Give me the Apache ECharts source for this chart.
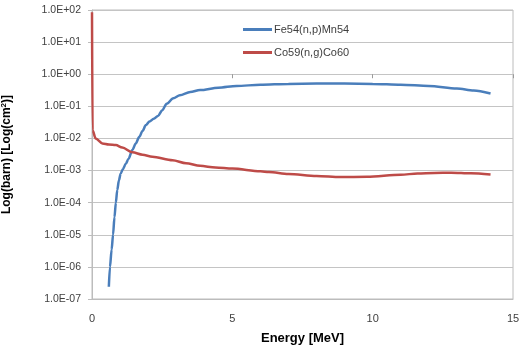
<!DOCTYPE html>
<html>
<head>
<meta charset="utf-8">
<script src="https://cdn.jsdelivr.net/npm/echarts@6/dist/echarts.min.js"></script>
<style>html,body{margin:0;padding:0;background:#fff}#c{width:520px;height:346px}</style>
</head>
<body>
<div id="c"></div>
<script>
// Series names
var seriesNames = ['Fe54(n,p)Mn54', 'Co59(n,g)Co60'];
// Fe54(n,p)Mn54: energy [MeV] and cross section
var feEnergy = [0.6, 0.64, 0.7, 0.75, 0.8, 0.85, 0.9, 0.96, 1.02, 1.1, 1.2, 1.3, 1.44, 1.56, 1.68, 1.8, 1.92, 2.05, 2.2, 2.35, 2.5, 2.66, 2.9, 3.13, 3.5, 3.85, 4.5, 5.15, 6, 7, 8, 9, 10, 11, 12, 13, 13.6, 14.2];
var feValue  = [2.4e-7, 1e-6, 3.5e-6, 1e-5, 3.5e-5, 1e-4, 2.5e-4, 5e-4, 8e-4, 1.1e-3, 1.6e-3, 2.3e-3, 4.4e-3, 7e-3, 1.1e-2, 1.7e-2, 2.6e-2, 3.4e-2, 4.1e-2, 5e-2, 7.5e-2, 0.12, 0.18, 0.22, 0.28, 0.32, 0.38, 0.43, 0.47, 0.5, 0.51, 0.51, 0.5, 0.47, 0.43, 0.36, 0.31, 0.25];
// Co59(n,g)Co60: energy [MeV] and cross section
var coEnergy = [0, 0.02, 0.13, 0.37, 0.6, 0.85, 1.08, 1.44, 1.8, 2.15, 2.87, 3.35, 3.85, 4.4, 5, 6, 6.3, 7, 8, 8.85, 9.8, 11, 11.6, 12.2, 12.8, 13.5, 14.2];
var coValue  = [85, 0.018, 0.01, 0.007, 0.0065, 0.0062, 0.0052, 0.0037, 0.0031, 0.0027, 0.0021, 0.0017, 0.0014, 0.00125, 0.00115, 0.00095, 0.0009, 0.00078, 0.00068, 0.00063, 0.00064, 0.00074, 0.00081, 0.00084, 0.00086, 0.00082, 0.00075];
// Axis settings
var xTicks = [0, 5, 10, 15];
var yMinExp = -7, yMaxExp = 2;

function pairs(xs, ys) { return xs.map(function (x, i) { return [x, ys[i]]; }); }
function expLabel(v) {
  var e = Math.round(Math.log10(v));
  return '1.0E' + (e < 0 ? '-' : '+') + String(Math.abs(e)).padStart(2, '0');
}

var chart = echarts.init(document.getElementById('c'), null, {renderer: 'canvas'});
var gridTop = 10, gridBottom = 47;
var gridH = 346 - gridTop - gridBottom;
var font = 'Liberation Sans';
chart.setOption({
  animation: false,
  backgroundColor: '#ffffff',
  grid: {left: 92, right: 7, top: gridTop, bottom: gridBottom, show: true, borderColor: '#bcbcbc', borderWidth: 1,
    containLabel: false, outerBoundsMode: 'none'},
  legend: {
    orient: 'vertical', left: 238, top: 19, itemWidth: 29, itemHeight: 3, itemGap: 12, icon: 'rect',
    textStyle: {fontFamily: font, fontSize: 11, color: '#404040', padding: [0, 0, 0, -3]},
    data: seriesNames
  },
  xAxis: [{
    type: 'value', min: xTicks[0], max: xTicks[xTicks.length - 1], interval: 5,
    name: 'Energy [MeV]', nameLocation: 'middle', nameGap: 33,
    nameTextStyle: {fontFamily: font, fontSize: 13, fontWeight: 'bold', color: '#000'},
    axisLine: {show: true, lineStyle: {color: '#bcbcbc'}},
    axisTick: {show: false},
    splitLine: {show: false},
    axisLabel: {fontFamily: font, fontSize: 11, color: '#404040', margin: 14}
  }, {
    type: 'value', min: xTicks[0], max: xTicks[xTicks.length - 1], interval: 5,
    position: 'top', offset: -gridH * (yMaxExp - 0) / (yMaxExp - yMinExp),
    axisLine: {show: false},
    axisTick: {show: true, inside: true, length: 4, lineStyle: {color: '#9a9a9a'}},
    axisLabel: {show: false}, splitLine: {show: false}
  }],
  yAxis: {
    type: 'log', logBase: 10, min: Math.pow(10, yMinExp), max: Math.pow(10, yMaxExp),
    name: 'Log(barn) [Log(cm{sup|2})]', nameLocation: 'middle', nameGap: 78, nameRotate: 90,
    nameTextStyle: {fontFamily: font, fontSize: 12, fontWeight: 'bold', color: '#000',
      rich: {sup: {fontFamily: font, fontSize: 8, fontWeight: 'bold', color: '#000', verticalAlign: 'top', padding: [0, 0, 6, 0]}}},
    axisLine: {show: true, lineStyle: {color: '#bcbcbc'}},
    axisTick: {show: true, length: 4, lineStyle: {color: '#bcbcbc'}},
    splitLine: {show: true, lineStyle: {color: '#c4c4c4', width: 1}},
    axisLabel: {fontFamily: font, fontSize: 10.5, color: '#404040', margin: 11, formatter: expLabel}
  },
  series: [{
    name: seriesNames[0], type: 'line', data: pairs(feEnergy, feValue),
    symbol: 'none', smooth: 0.3, smoothMonotone: 'x',
    lineStyle: {color: '#4a7ebb', width: 2.5}, itemStyle: {color: '#4a7ebb'}
  }, {
    name: seriesNames[1], type: 'line', data: pairs(coEnergy, coValue),
    symbol: 'none', smooth: 0.3, smoothMonotone: 'x',
    lineStyle: {color: '#be4b48', width: 2.5}, itemStyle: {color: '#be4b48'}
  }]
});
</script>
</body>
</html>
